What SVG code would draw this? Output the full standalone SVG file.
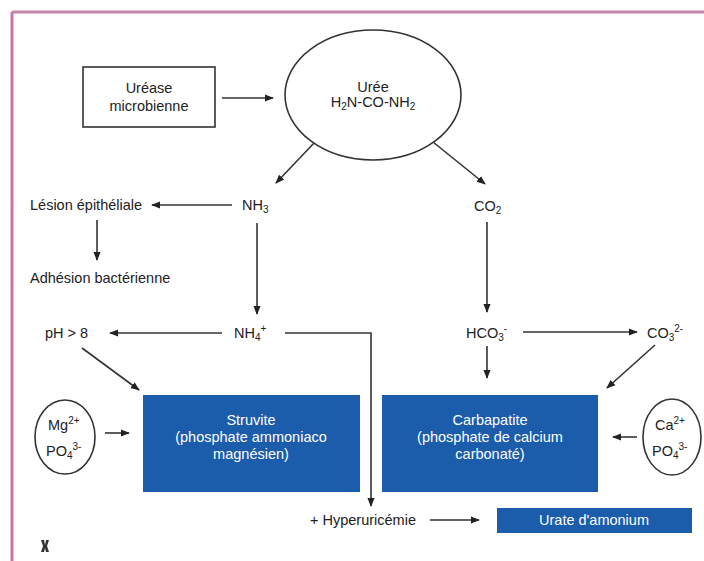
<svg xmlns="http://www.w3.org/2000/svg" width="704" height="561" viewBox="0 0 704 561">
<defs>
<marker id="ah" viewBox="0 0 10 10" refX="9" refY="5" markerWidth="9" markerHeight="9" markerUnits="userSpaceOnUse" orient="auto">
<path d="M0,1 L10,5 L0,9 Z" fill="#222"/>
</marker>
<style>
text{font-family:"Liberation Sans",Arial,sans-serif;font-size:14.5px;fill:#222}
.c{text-anchor:middle}
.w{fill:#fff}
.sub{font-size:10px}
.ln{stroke:#333;stroke-width:1.6;fill:none}
.ar{stroke:#333;stroke-width:1.6;fill:none;marker-end:url(#ah)}
.blue{fill:#1b5cab}
.outline{fill:#fff;stroke:#333;stroke-width:1.6}
</style>
</defs>
<rect width="704" height="561" fill="#fff"/>
<g id="frame">
<line x1="12" y1="12" x2="704" y2="12" stroke="#c585ad" stroke-width="3"/>
<line x1="12" y1="12" x2="12" y2="561" stroke="#d070a8" stroke-width="3"/>
</g>
<g id="connectors">
<line class="ar" x1="222" y1="98" x2="273" y2="98"/>
<line class="ar" x1="315" y1="142" x2="276" y2="183"/>
<line class="ar" x1="433" y1="142" x2="485" y2="184"/>
<line class="ar" x1="232" y1="205" x2="152" y2="205"/>
<line class="ar" x1="97" y1="220" x2="97" y2="260"/>
<line class="ar" x1="257" y1="223" x2="257" y2="314"/>
<line class="ar" x1="487" y1="222" x2="487" y2="312"/>
<line class="ar" x1="222" y1="333" x2="110" y2="333"/>
<polyline class="ar" points="285,333 371,333 371,506"/>
<line class="ar" x1="523" y1="332" x2="637" y2="332"/>
<line class="ar" x1="487" y1="346" x2="487" y2="378"/>
<line class="ar" x1="82" y1="348" x2="139" y2="390"/>
<line class="ar" x1="655" y1="345" x2="607" y2="388"/>
<line class="ar" x1="105" y1="433" x2="129" y2="433"/>
<line class="ar" x1="637" y1="437" x2="613" y2="437"/>
<line class="ar" x1="430" y1="520" x2="479" y2="520"/>
</g>
<g id="ureaseNode">
<rect class="outline" x="83" y="67" width="132" height="60"/>
<text class="c" x="149" y="93">Uréase</text>
<text class="c" x="149" y="111">microbienne</text>
</g>
<g id="ureeNode">
<ellipse class="outline" cx="373" cy="95" rx="88" ry="65"/>
<text class="c" x="373" y="92">Urée</text>
<text class="c" x="373" y="107">H<tspan class="sub" dy="3">2</tspan><tspan dy="-3">N-CO-NH</tspan><tspan class="sub" dy="3">2</tspan></text>
</g>
<g id="nh3Node"><text x="242" y="210">NH<tspan class="sub" dy="3">3</tspan></text></g>
<g id="co2Node"><text x="474" y="211">CO<tspan class="sub" dy="3">2</tspan></text></g>
<g id="lesionNode"><text x="30" y="210">Lésion épithéliale</text></g>
<g id="adhesionNode"><text x="30" y="283">Adhésion bactérienne</text></g>
<g id="phNode"><text x="45" y="338">pH &gt; 8</text></g>
<g id="nh4Node"><text x="234" y="338">NH<tspan class="sub" dy="3">4</tspan><tspan class="sub" dy="-9">+</tspan></text></g>
<g id="hco3Node"><text x="466" y="338">HCO<tspan class="sub" dy="3">3</tspan><tspan class="sub" dy="-9">-</tspan></text></g>
<g id="co3Node"><text x="647" y="338">CO<tspan class="sub" dy="3">3</tspan><tspan class="sub" dy="-9">2-</tspan></text></g>
<g id="struviteNode">
<rect class="blue" x="143" y="395" width="217" height="97"/>
<text class="c w" x="251" y="425">Struvite</text>
<text class="c w" x="251" y="442">(phosphate ammoniaco</text>
<text class="c w" x="251" y="459">magnésien)</text>
</g>
<g id="carbapatiteNode">
<rect class="blue" x="382" y="395" width="216" height="97"/>
<text class="c w" x="490" y="425">Carbapatite</text>
<text class="c w" x="490" y="442">(phosphate de calcium</text>
<text class="c w" x="490" y="459">carbonaté)</text>
</g>
<g id="mgNode">
<ellipse class="outline" cx="65" cy="437" rx="30" ry="37"/>
<text x="48" y="430">Mg<tspan class="sub" dy="-6">2+</tspan></text>
<text x="46" y="456">PO<tspan class="sub" dy="3">4</tspan><tspan class="sub" dy="-9">3-</tspan></text>
</g>
<g id="caNode">
<ellipse class="outline" cx="672" cy="437" rx="29" ry="38"/>
<text x="655" y="430">Ca<tspan class="sub" dy="-6">2+</tspan></text>
<text x="652" y="456">PO<tspan class="sub" dy="3">4</tspan><tspan class="sub" dy="-9">3-</tspan></text>
</g>
<g id="hyperNode"><text x="310" y="525">+ Hyperuricémie</text></g>
<g id="urateNode">
<rect class="blue" x="497" y="508" width="195" height="25"/>
<text class="c w" x="594" y="525">Urate d'amonium</text>
</g>
<g id="logo" fill="#333">
<path d="M41,540 l3,0 l1,5 l1,-5 l3,0 l-2,6 l2,6 l-3,0 l-1,-4 l-1,4 l-3,0 l2,-6 z"/>
</g>
</svg>
